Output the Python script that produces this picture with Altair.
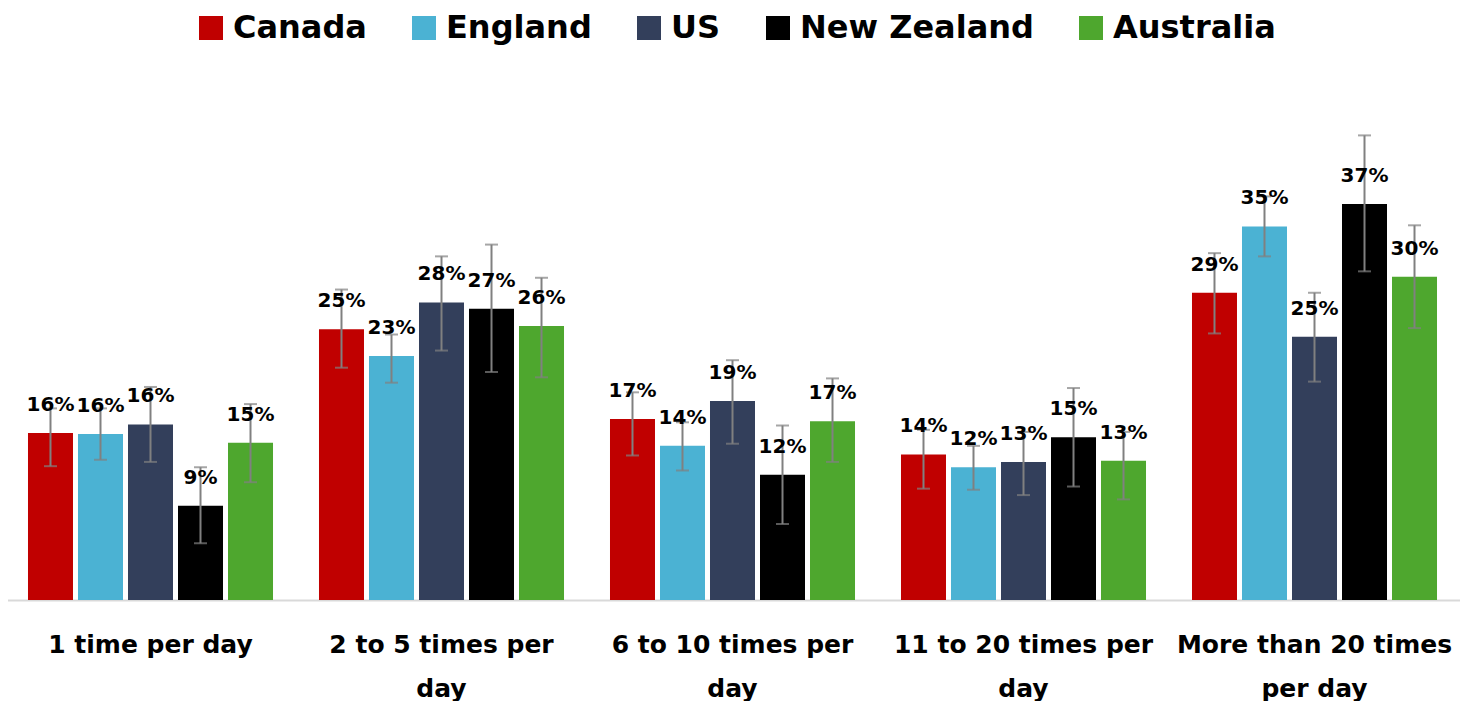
import json
import altair as alt
import pandas as pd

categories = ["1 time per day", "2 to 5 times per day", "6 to 10 times per day",
              "11 to 20 times per day", "More than 20 times per day"]
category_lines = [["1 time per day"], ["2 to 5 times per", "day"], ["6 to 10 times per", "day"],
                  ["11 to 20 times per", "day"], ["More than 20 times", "per day"]]
countries = ["Canada", "England", "US", "New Zealand", "Australia"]
colors = ["#C00000", "#4BB2D3", "#333F5B", "#000000", "#4EA72E"]

canada = [15.6, 25.3, 16.9, 13.6, 28.7]
england = [15.5, 22.8, 14.4, 12.4, 34.9]
us = [16.4, 27.8, 18.6, 12.9, 24.6]
new_zealand = [8.8, 27.2, 11.7, 15.2, 37.0]
australia = [14.7, 25.6, 16.7, 13.0, 30.2]

canada_lo = [12.5, 21.7, 13.5, 10.4, 24.9]
canada_hi = [17.9, 29.0, 19.4, 15.9, 32.4]
england_lo = [13.1, 20.3, 12.1, 10.3, 32.1]
england_hi = [17.9, 24.8, 16.6, 14.4, 37.7]
us_lo = [12.9, 23.3, 14.6, 9.8, 20.4]
us_hi = [19.9, 32.1, 22.4, 15.7, 28.7]
new_zealand_lo = [5.3, 21.3, 7.1, 10.6, 30.7]
new_zealand_hi = [12.4, 33.2, 16.3, 19.8, 43.4]
australia_lo = [11.0, 20.8, 12.9, 9.4, 25.4]
australia_hi = [18.3, 30.1, 20.7, 15.7, 35.0]

series = {
    "Canada": (canada, canada_lo, canada_hi),
    "England": (england, england_lo, england_hi),
    "US": (us, us_lo, us_hi),
    "New Zealand": (new_zealand, new_zealand_lo, new_zealand_hi),
    "Australia": (australia, australia_lo, australia_hi),
}

rows = []
for c in countries:
    v, lo, hi = series[c]
    for i, cat in enumerate(categories):
        rows.append({"category": cat, "country": c, "value": v[i], "lo": lo[i], "hi": hi[i]})
df = pd.DataFrame(rows)

FONT = "DejaVu Sans"

expr = "''"
for cat, lines in reversed(list(zip(categories, category_lines))):
    expr = f"datum.value == {json.dumps(cat)} ? {json.dumps(lines)} : ({expr})"

x = alt.X("category:N", sort=categories, title=None,
          scale=alt.Scale(paddingInner=0.158, paddingOuter=0.079),
          axis=alt.Axis(labelExpr=expr, labelAngle=0, labelFont=FONT, labelFontSize=25,
                        labelFontWeight="bold", labelColor="#000000", labelLineHeight=44,
                        labelPadding=32, ticks=False, domainColor="#D9D9D9",
                        domainWidth=2, labelLimit=400))
xo = alt.XOffset("country:N", sort=countries, scale=alt.Scale(paddingInner=0.1, paddingOuter=0))
yscale = alt.Scale(domain=[0, 55.3], nice=False)

base = alt.Chart(df)

bars = base.mark_bar().encode(
    x=x, xOffset=xo,
    y=alt.Y("value:Q", scale=yscale, axis=None),
    color=alt.Color("country:N", sort=countries,
                    scale=alt.Scale(domain=countries, range=colors),
                    legend=alt.Legend(orient="none", legendX=190, legendY=4, direction="horizontal",
                                      title=None, symbolType="square", symbolSize=576,
                                      symbolStrokeWidth=0, labelFont=FONT, labelFontSize=32,
                                      labelFontWeight="bold", labelColor="#000000",
                                      columnPadding=41, labelOffset=6, labelLimit=400)),
)

rule = base.mark_rule(color="#808080", strokeWidth=2).encode(
    x=x, xOffset=xo,
    y=alt.Y("lo:Q", scale=yscale), y2="hi:Q",
)
cap_lo = base.mark_tick(color="#808080", thickness=2, size=13).encode(
    x=x, xOffset=xo, y=alt.Y("lo:Q", scale=yscale))
cap_hi = base.mark_tick(color="#808080", thickness=2, size=13).encode(
    x=x, xOffset=xo, y=alt.Y("hi:Q", scale=yscale))

labels = base.mark_text(font=FONT, fontSize=20, fontWeight="bold", color="#000000",
                        baseline="bottom", dy=-18).transform_calculate(
    label="format(datum.value / 100, '.0%')"
).encode(
    x=x, xOffset=xo,
    y=alt.Y("value:Q", scale=yscale),
    text="label:N",
)

chart = alt.layer(bars, rule, cap_lo, cap_hi, labels).properties(
    width=1455, height=592,
    padding={"left": -3, "top": 0, "right": 0, "bottom": 0},
).configure_view(stroke=None).configure_axis(grid=False)

chart.save("out.html", embed_options={"renderer": "svg", "actions": False})
